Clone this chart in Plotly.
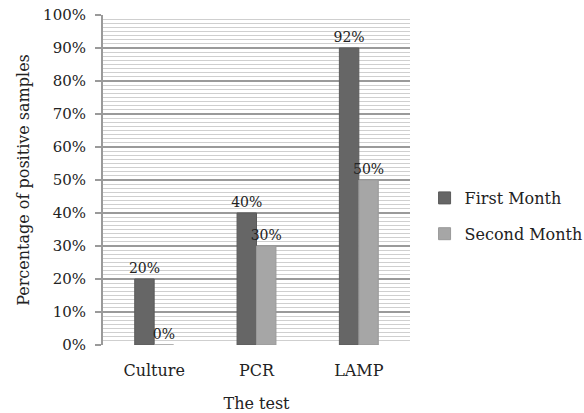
import plotly.graph_objects as go

categories = ["Culture", "PCR", "LAMP"]
first_month = [20, 40, 90]
second_month = [0, 30, 50]
first_labels = ["20%", "40%", "92%"]
second_labels = ["0%", "30%", "50%"]
y_ticks = list(range(0, 101, 10))
y_tick_labels = [f"{v}%" for v in y_ticks]

FONT = "DejaVu Serif"

fig = go.Figure()
fig.add_trace(go.Bar(
    x=categories, y=first_month, name="First Month", legendgroup="a",
    text=first_labels, textposition="outside", cliponaxis=False,
    constraintext="none",
    marker=dict(color="#666666", line=dict(color="#5a5a5a", width=1)),
    textfont=dict(family=FONT, size=14, color="#222"),
))
fig.add_trace(go.Bar(
    x=categories, y=second_month, name="Second Month", legendgroup="b",
    text=second_labels, textposition="outside", cliponaxis=False,
    constraintext="none",
    marker=dict(color="#a6a6a6", line=dict(color="#999999", width=1)),
    textfont=dict(family=FONT, size=14, color="#222"),
))

fig.update_layout(
    width=584, height=413,
    margin=dict(l=103, r=174, t=15, b=68),
    paper_bgcolor="white", plot_bgcolor="white",
    barmode="group", bargap=0.62, bargroupgap=0,
    font=dict(family=FONT, size=16, color="#222"),
    showlegend=True,
    legend=dict(xref="container", yref="container", x=0.727, y=0.477,
                xanchor="left", yanchor="middle",
                font=dict(family=FONT, size=16, color="#222"),
                tracegroupgap=12, bgcolor="rgba(0,0,0,0)"),
    xaxis=dict(
        title=dict(text="The test", standoff=22, font=dict(family=FONT, size=16)),
        showgrid=False, showline=False, ticks="", zeroline=False,
        ticklabelstandoff=14, automargin=False,
        tickfont=dict(family=FONT, size=16),
    ),
    yaxis=dict(
        title=dict(text="Percentage of positive samples", standoff=10, font=dict(family=FONT, size=16)),
        range=[0, 100], tickvals=y_ticks, ticktext=y_tick_labels,
        showgrid=True, gridcolor="#9a9a9a", gridwidth=1.5,
        showline=True, linecolor="#9a9a9a", linewidth=2,
        ticks="outside", ticklen=6, tickcolor="#9a9a9a", tickwidth=1.5,
        zeroline=False, ticklabelstandoff=6, automargin=False,
        tickfont=dict(family=FONT, size=15),
        minor=dict(dtick=1.25, showgrid=True, gridcolor="#cfcfcf", gridwidth=1, ticks=""),
    ),
)

fig.write_html("out.html")
